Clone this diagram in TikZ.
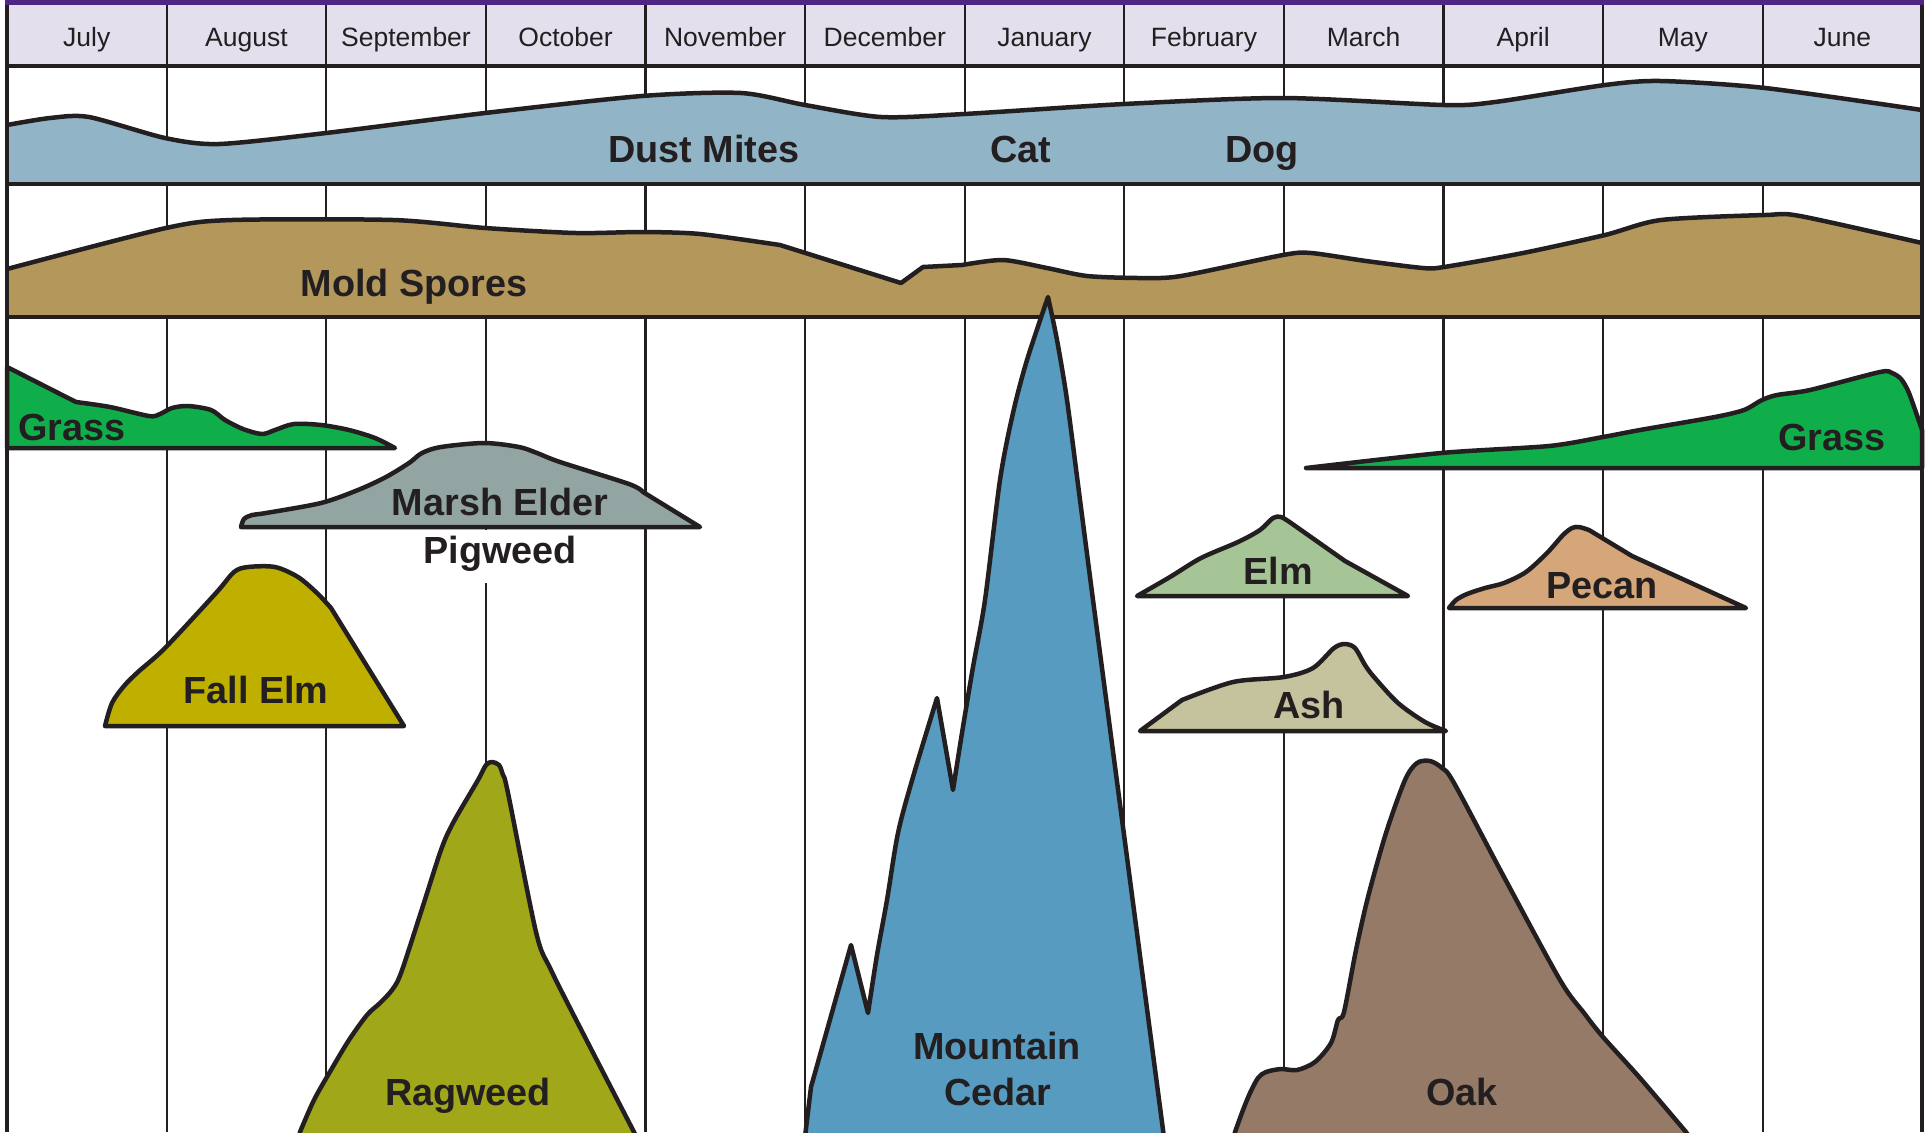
\documentclass[tikz,border=0pt]{standalone}
\usepackage{fontspec}
\setmainfont{Liberation Sans}
\definecolor{ink}{HTML}{231F20}
\definecolor{hdr}{HTML}{E4DFEC}
\definecolor{purp}{HTML}{4F2683}
\definecolor{dustc}{HTML}{92B4C7}
\definecolor{moldc}{HTML}{B3975B}
\definecolor{grassc}{HTML}{10AE4B}
\definecolor{marshc}{HTML}{93A5A2}
\definecolor{fallc}{HTML}{BFB000}
\definecolor{ragc}{HTML}{A0A719}
\definecolor{cedarc}{HTML}{589BC0}
\definecolor{elmc}{HTML}{A6C596}
\definecolor{pecanc}{HTML}{D4A679}
\definecolor{ashc}{HTML}{C5C39E}
\definecolor{oakc}{HTML}{957A67}
\begin{document}
\begin{tikzpicture}[x=0.5pt,y=-0.5pt,
  monthline/.style={draw=ink,line width=1.1pt},
  sepline/.style={draw=ink,line width=2.4pt},
  borderline/.style={draw=ink,line width=2pt},
  blob/.style={draw=ink,line width=2.25pt,line join=round},
  curve/.style={draw=ink,line width=2.25pt,line join=round},
  mon/.style={text=ink,font=\fontsize{13.25}{15}\selectfont,inner sep=0pt,anchor=base},
  lbl/.style={text=ink,font=\fontsize{18.9}{22}\selectfont\bfseries,inner sep=0pt,anchor=base}]
\useasboundingbox (0,0) rectangle (1929,1132);
\fill[white] (0,0) rectangle (1929,1132);
% header
\fill[hdr] (7,4) rectangle (1922,66);
% month lines
\foreach \k in {1,...,11} \draw[monthline] ({7+159.6*\k},4) -- ({7+159.6*\k},1132);
% dust mites band
\fill[dustc] (7,184) -- (7,125) -- plot[smooth,tension=0.45] coordinates {(7,125) (50,118) (89,117) (165,138) (219,144) (326,133) (485,113) (642,96) (741,93) (805,105) (881,117) (964,114) (1124,104) (1283,98) (1444,105) (1495,102) (1605,85) (1661,81) (1765,88) (1922,110)} -- (1922,184) -- cycle;
\draw[curve] plot[smooth,tension=0.45] coordinates {(7,125) (50,118) (89,117) (165,138) (219,144) (326,133) (485,113) (642,96) (741,93) (805,105) (881,117) (964,114) (1124,104) (1283,98) (1444,105) (1495,102) (1605,85) (1661,81) (1765,88) (1922,110)};
% mold band
\fill[moldc] (7,317) -- (7,269) -- plot[smooth,tension=0.45] coordinates {(7,269) (166,228) (232,220) (393,220) (485,228) (576,233) (642,232) (700,234) (780,245)} -- (901,283) -- (923,267) -- (962,265) -- plot[smooth,tension=0.45] coordinates {(962,265) (1003,260) (1047,268) (1087,276) (1140,278) (1181,276) (1283,255) (1311,253) (1366,261) (1423,268) (1444,267) (1523,253) (1605,235) (1661,220) (1765,215) (1800,216) (1922,243)} -- (1922,317) -- cycle;
\draw[curve] plot[smooth,tension=0.45] coordinates {(7,269) (166,228) (232,220) (393,220) (485,228) (576,233) (642,232) (700,234) (780,245)} -- (901,283) -- (923,267) -- (962,265) -- plot[smooth,tension=0.45] coordinates {(962,265) (1003,260) (1047,268) (1087,276) (1140,278) (1181,276) (1283,255) (1311,253) (1366,261) (1423,268) (1444,267) (1523,253) (1605,235) (1661,220) (1765,215) (1800,216) (1922,243)};
% separators
\draw[line width=2pt,draw=ink] (7,66) -- (1922,66);
\draw[sepline] (7,184) -- (1922,184);
\draw[sepline] (7,317) -- (1922,317);
% grass left
\path[blob,fill=grassc] (7,448) -- (7,367) -- (76,402) -- plot[smooth,tension=0.5] coordinates {(76,402) (110,407) (149,416) (160,414) (172,408) (188,406) (211,410) (225,420) (243,429) (262,434) (275,430) (294,424) (321,425) (349,430) (375,438) (395,448)} -- cycle;
% grass right
\path[blob,fill=grassc] (1306,468) -- plot[smooth,tension=0.45] coordinates {(1306,468) (1441,453) (1549,446) (1603,437) (1640,430) (1715,417) (1744,410) (1762,400) (1777,395) (1810,390) (1880,372) (1892,373) (1901,379) (1909,393) (1922,430)} -- (1922,468) -- cycle;
% marsh elder
\path[blob,fill=marshc] (241,527) -- plot[smooth,tension=0.5] coordinates {(241,527) (244,519) (252,515) (266,513) (321,503) (358,490) (386,477) (409,463) (422,453) (441,447) (484,443) (519,447) (537,453) (560,462) (629,484) (643,492)} -- (700,527) -- cycle;
% pigweed background
\fill[white] (430,530) rectangle (572,583);
% fall elm
\path[blob,fill=fallc] (105,726) -- plot[smooth,tension=0.5] coordinates {(105,726) (112,703) (124,686) (138,672) (165,648) (216,593) (234,572) (248,567) (275,567) (298,577) (317,593) (331,608)} -- (404,726) -- cycle;
% ragweed
\path[blob,fill=ragc] (298,1145) -- plot[smooth,tension=0.5] coordinates {(300,1132) (314,1100) (331,1070) (349,1040) (367,1015) (380,1003) (392,990) (401,973) (421,912) (441,850) (453,823) (478,780) (486,765) (492,762) (499,765) (503,775) (508,793) (536,932) (551,970) (588,1043) (634,1132)} -- (640,1145) -- cycle;
% mountain cedar
\path[blob,fill=cedarc] (804,1145) -- (811,1087) -- (851,945) -- (868,1013) -- plot[smooth,tension=0.5] coordinates {(868,1013) (877,955) (887,900) (898,833) (913,777) (937,698)} -- (953,790) -- plot[smooth,tension=0.5] coordinates {(953,790) (962,733) (973,667) (985,600) (1000,480) (1013,413) (1027,360) (1048,297)} -- plot[smooth,tension=0.5] coordinates {(1048,297) (1057,340) (1067,400) (1080,500) (1093,600)} -- (1165,1145) -- cycle;
% oak
\path[blob,fill=oakc] (1233,1145) -- plot[smooth,tension=0.5] coordinates {(1235,1132) (1243,1110) (1250,1093) (1258,1078) (1266,1072) (1281,1069) (1297,1070) (1315,1062) (1331,1043) (1338,1020) (1344,1012) (1356,950) (1368,897) (1386,833) (1405,780) (1417,763) (1430,761) (1442,768) (1454,783) (1504,877) (1560,980) (1584,1013) (1603,1037) (1640,1078) (1686,1132)} -- (1695,1145) -- cycle;
% elm
\path[blob,fill=elmc] (1137,596) -- plot[smooth,tension=0.5] coordinates {(1137,596) (1170,577) (1201,558) (1238,542) (1260,530) (1273,518) (1281,517) (1291,523)} -- (1345,561) -- (1408,596) -- cycle;
% pecan
\path[blob,fill=pecanc] (1449,608) -- plot[smooth,tension=0.5] coordinates {(1449,608) (1456,600) (1467,594) (1485,588) (1504,583) (1526,572) (1547,553) (1563,535) (1572,528) (1579,527) (1589,530)} -- (1632,556) -- (1746,608) -- cycle;
% ash
\path[blob,fill=ashc] (1140,731) -- (1182,700) -- plot[smooth,tension=0.5] coordinates {(1182,700) (1233,682) (1284,677) (1313,668) (1334,648) (1345,644) (1355,648) (1365,665) (1374,677) (1398,703) (1425,722) (1446,731)} -- cycle;
% borders
\draw[borderline] (7,0) -- (7,1132);
\draw[borderline] (1922,0) -- (1922,1132);
\fill[purp] (5,0) rectangle (1924,4.5);
% month labels
\foreach \m [count=\i from 0] in {July,August,September,October,November,December,January,February,March,April,May,June}
  \node[mon] (m\i) at ({86.8+159.6*\i},46) {\m};
% labels
\node[lbl] (dust) at (704,162) {Dust Mites};
\node[lbl] (cat) at (1021,162) {Cat};
\node[lbl] (dog) at (1262,162) {Dog};
\node[lbl] (mold) at (414,296) {Mold Spores};
\node[lbl] (grassl) at (72,440) {Grass};
\node[lbl] (grassr) at (1832,450) {Grass};
\node[lbl] (marsh) at (500,515) {Marsh Elder};
\node[lbl] (pig) at (500,563) {Pigweed};
\node[lbl] (fallelm) at (256,703) {Fall Elm};
\node[lbl] (elm) at (1278,584) {Elm};
\node[lbl] (pecan) at (1602,598) {Pecan};
\node[lbl] (ash) at (1309,718) {Ash};
\node[lbl] (rag) at (468,1105) {Ragweed};
\node[lbl] (mtn) at (997,1059) {Mountain};
\node[lbl] (cedar) at (998,1105) {Cedar};
\node[lbl] (oak) at (1462,1105) {Oak};
\end{tikzpicture}
\end{document}
